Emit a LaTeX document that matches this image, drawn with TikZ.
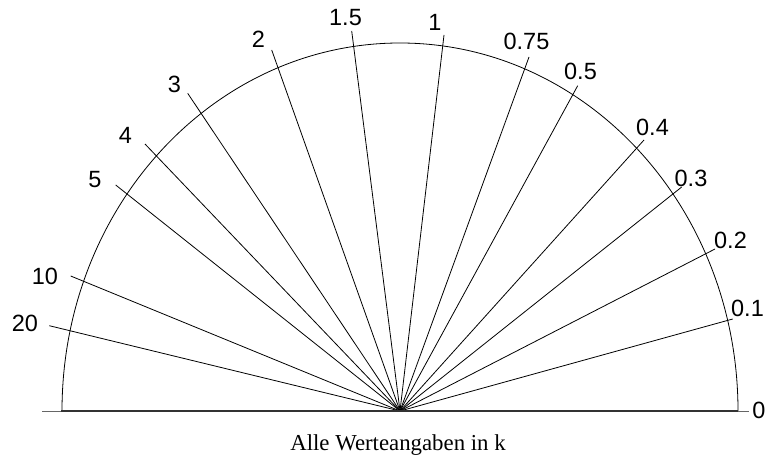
\documentclass[tikz,border=0pt]{standalone}
\usepackage{fontspec}
\setmainfont{Liberation Serif}
\newfontfamily\labelfont{Liberation Sans}
\begin{document}
\begin{tikzpicture}[x=1pt,y=-1pt,
  ray/.style={draw=black,line width=0.8pt},
  valuelabel/.style={inner sep=0pt,font=\labelfont\fontsize{23.5}{25}\selectfont},
  captionlabel/.style={inner sep=0pt,font=\fontsize{22.8}{25}\selectfont},
  baseline thick/.style={draw=black!80,line width=1.8pt},
  baseline thin/.style={draw=black!60,line width=0.8pt}]
\useasboundingbox (0,0) rectangle (765,457);
\coordinate (c) at (400,411);
\coordinate (bl) at (61,411);
\coordinate (br) at (738,411);
\coordinate (blx) at (42,411);
\coordinate (brx) at (749,411);
% arc
\draw[line width=0.8pt] (br) arc[start angle=0,end angle=180,x radius=338pt,y radius=368pt];
% rays
\foreach \id/\n/\ex/\ey/\lx/\ly in {
  a/20/49.3/325.7/25/323,
  b/10/70.7/276/45/276.5,
  c/5/115.7/185/95/179.5,
  d/4/145/144/125.5/135.5,
  e/3/187.7/93.3/174.5/84,
  f/2/271.7/50/258.5/39.5,
  g/1.5/351.7/31/345.5/18,
  h/1/444/35/435/22,
  i/0.75/529/57/526.5/41.5,
  j/0.5/577.7/85.7/580.5/71,
  k/0.4/644/140/652.5/127.5,
  l/0.3/681.7/187/691/178.5,
  m/0.2/715/249/730.5/240,
  n/0.1/732.7/319/747.5/308.5}{
  \coordinate (end\id) at (\ex,\ey);
  \node[valuelabel] (lab\id) at (\lx,\ly) {\n};
  \draw[ray] (c) -- (end\id);
}
% baseline
\draw[baseline thin] (blx) -- (bl);
\draw[baseline thin] (br) -- (brx);
\draw[baseline thick] (bl) -- (br);
\node[valuelabel] (labzero) at (759,410) {0};
\node[captionlabel,anchor=base] (cap) at (398,450) {Alle Werteangaben in k};
\end{tikzpicture}
\end{document}
